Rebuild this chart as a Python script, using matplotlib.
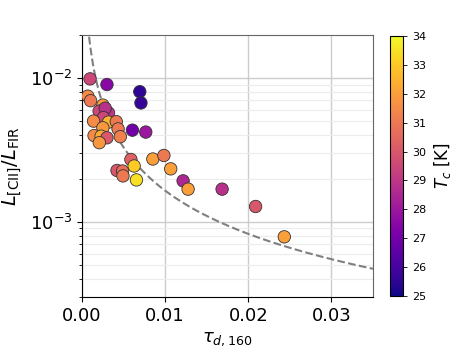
import numpy as np
import matplotlib
matplotlib.use("Agg")
import matplotlib.pyplot as plt

tau = [0.00097, 0.0030, 0.00695, 0.00709, 0.0007, 0.00103, 0.00251, 0.00206, 0.00319,
       0.00279, 0.00258, 0.00139, 0.00319, 0.00412, 0.00251, 0.00434, 0.00145, 0.0023,
       0.0030, 0.00461, 0.00208, 0.00606, 0.00767, 0.00588, 0.00627, 0.00852, 0.00985,
       0.01067, 0.00421, 0.00488, 0.00493, 0.00655, 0.01216, 0.01276, 0.01685, 0.02088,
       0.02433]
ratio = [0.0099, 0.00904, 0.00806, 0.00673, 0.0075, 0.00698, 0.0065, 0.0059, 0.00574,
         0.00619, 0.00532, 0.00503, 0.00495, 0.00499, 0.00452, 0.00444, 0.00399, 0.00395,
         0.00385, 0.00392, 0.00356, 0.00435, 0.00422, 0.00272, 0.00245, 0.00274, 0.0029,
         0.00234, 0.00228, 0.00226, 0.00209, 0.00196, 0.00193, 0.00169, 0.00169, 0.00128,
         0.000787]
tc = [29.5, 27.5, 25.5, 25.7, 31.5, 31.0, 32.0, 29.5, 29.0,
      28.8, 29.5, 31.5, 32.5, 31.0, 31.8, 31.0, 31.5, 32.3,
      30.0, 31.2, 31.8, 27.0, 28.0, 30.3, 33.0, 32.0, 31.0,
      32.0, 30.0, 30.7, 31.0, 33.5, 28.5, 32.0, 28.8, 30.0,
      32.0]
curve_coef = 1.65e-5

fig = plt.figure(figsize=(4.63, 3.48), dpi=100)
ax = fig.add_axes([82/463, 51/348, 291/463, 262/348])
cax = fig.add_axes([390/463, 52/348, 13/463, 260/348])

ax.set_yscale('log')
ax.set_xlim(0, 0.035)
ax.set_ylim(3e-4, 2e-2)
ax.grid(True, which='major', color='#cccccc', lw=1.0, zorder=0)
ax.grid(True, which='minor', axis='y', color='#ececec', lw=0.8, zorder=0)
ax.set_axisbelow(True)

xx = np.linspace(0.0005, 0.035, 400)
ax.plot(xx, curve_coef / xx, ls='--', color='gray', lw=1.5, zorder=1)

sc = ax.scatter(tau, ratio, c=tc, cmap='plasma', vmin=25, vmax=34, s=80,
                edgecolors='#333333', linewidths=0.6, zorder=3)

cb = fig.colorbar(sc, cax=cax)
cb.set_ticks(np.arange(25, 35, 1))
cb.ax.tick_params(labelsize=8, length=3, width=0.6)
cb.set_label(r'$T_c$ [K]', fontsize=12)
cb.outline.set_linewidth(0.8)

ax.set_xticks([0.0, 0.01, 0.02, 0.03])
ax.set_xticklabels(['0.00', '0.01', '0.02', '0.03'])
ax.tick_params(axis='both', which='major', labelsize=13)
ax.set_xlabel(r'$\tau_{d,160}$', fontsize=13)
ax.set_ylabel(r'$L_{\rm [CII]}/L_{\rm FIR}$', fontsize=14)

for s in ['top', 'right']:
    ax.spines[s].set_color('#666666')
for s in ['left', 'bottom']:
    ax.spines[s].set_color('black')

fig.savefig('out.png', dpi=100)
